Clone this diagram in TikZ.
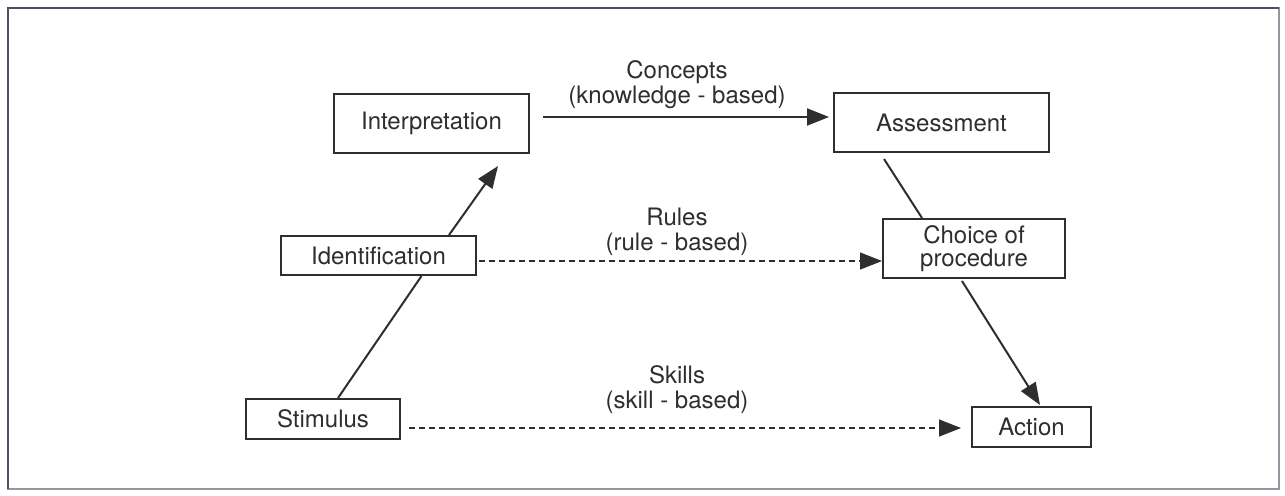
\documentclass[tikz,border=0pt]{standalone}
\usepackage{fontspec}
\setmainfont{TeX Gyre Heros}
\usetikzlibrary{calc,arrows.meta}
\definecolor{ink}{HTML}{2E2E2E}
\definecolor{framec}{HTML}{4A5260}
\begin{document}
\begin{tikzpicture}[x=0.5pt,y=-0.5pt,
  box/.style={draw=ink,line width=1pt,fill=white,text=ink,inner sep=0pt,
    font=\fontsize{12}{11.5}\selectfont,align=center},
  solidline/.style={draw=ink,line width=1pt},
  solidarrow/.style={draw=ink,line width=1pt,-{Triangle[length=11pt,width=8.5pt]}},
  dasharrow/.style={draw=ink,line width=0.6pt,dash pattern=on 3pt off 2pt,
    -{Triangle[length=11pt,width=8.5pt]}},
  lbl/.style={text=ink,inner sep=0pt,anchor=south,align=center,
    font=\fontsize{12}{12.5}\selectfont}]
\useasboundingbox (0,0) rectangle (1285,495);
\fill[white] (0,0) rectangle (1285,495);
\draw[framec!60,line width=0.8pt] (8,8) rectangle (1279,489);
\draw[framec,line width=1pt] (8,489) -- (8,8) -- (1279,8);

% connectors drawn first (boxes cover overlaps)
\coordinate (p0) at (0,0);

\node[box,minimum width=97.5pt,minimum height=29.5pt] (interp) at (431.5,123.5) {Interpretation};
\node[box,minimum width=107.5pt,minimum height=29.5pt] (assess) at (941.5,122.5) {Assessment};
\node[box,minimum width=97.5pt,minimum height=19.5pt] (ident) at (378.5,255.5) {Identification};
\node[box,minimum width=91pt,minimum height=29.5pt] (choice) at (974,248.5) {Choice of\\procedure};
\node[box,minimum width=77pt,minimum height=20pt] (stim) at (323,419) {Stimulus};
\node[box,minimum width=59.5pt,minimum height=20pt] (action) at (1031.5,427) {Action};

% left diagonal
\draw[solidline] ($(stim.north)+(15,0)$) -- ($(ident.south)+(43,0)$);
\draw[solidarrow] ($(ident.north)+(70.5,0)$) -- ($(interp.south)+(66.5,12)$);
% right diagonal
\draw[solidline] ($(assess.south)+(-57.5,6)$) -- ($(choice.north)+(-52,0)$);
\draw[solidarrow] ($(choice.south)+(-12,2)$) -- ($(action.north)+(8.5,-1)$);

% horizontal
\draw[solidarrow] ($(interp.east)+(13,-6.5)$) -- ($(assess.west)+(-4,-5.5)$);
\draw[dasharrow] ($(ident.east)+(2,5.5)$) -- ($(choice.west)+(0,12.5)$);
\draw[dasharrow] ($(stim.east)+(8,9)$) -- ($(action.west)+(-10,1)$);

\node[lbl] (lconcepts) at (677,109) {Concepts\\(knowledge - based)};
\node[lbl] (lrules) at (677,256) {Rules\\(rule - based)};
\node[lbl] (lskills) at (677,414) {Skills\\(skill - based)};
\end{tikzpicture}
\end{document}
